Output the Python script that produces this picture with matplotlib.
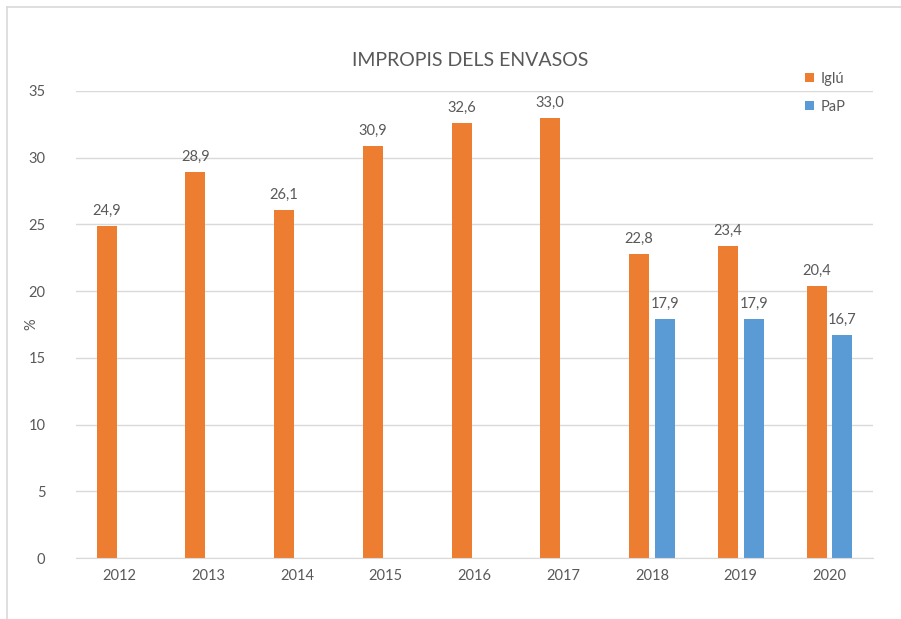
import matplotlib
matplotlib.use("Agg")
import matplotlib.pyplot as plt
import numpy as np

years = ["2012", "2013", "2014", "2015", "2016", "2017", "2018", "2019", "2020"]
iglu = [24.9, 28.9, 26.1, 30.9, 32.6, 33.0, 22.8, 23.4, 20.4]
pap = [None, None, None, None, None, None, 17.9, 17.9, 16.7]
yticks = [0, 5, 10, 15, 20, 25, 30, 35]

plt.rcParams['font.family'] = ['Lato', 'DejaVu Sans']
txt = '#595959'
orange = '#ED7D31'
blue = '#5B9BD5'

fig = plt.figure(figsize=(9.01, 6.19), dpi=100)
ax = fig.add_axes([76/901, (619-558)/619, (873-76)/901, (558-91)/619])

x = np.arange(len(years))
w = 0.225
off = 0.146
bi = ax.bar(x - off, iglu, width=w, color=orange, zorder=3, label='Iglú')
px = [i for i, v in enumerate(pap) if v is not None]
pv = [v for v in pap if v is not None]
bp = ax.bar(np.array(px) + off, pv, width=w, color=blue, zorder=3, label='PaP')

for xi, v in zip(x, iglu):
    ax.text(xi - off, v + 0.6, f"{v:.1f}".replace('.', ','), ha='center', va='bottom',
            fontsize=10.5, color=txt)
for xi, v in zip(px, pv):
    ax.text(xi + off, v + 0.6, f"{v:.1f}".replace('.', ','), ha='center', va='bottom',
            fontsize=10.5, color=txt)

ax.set_xlim(-0.49, 8.49)
ax.set_ylim(0, 35)
ax.set_yticks(yticks)
ax.set_xticks(x)
ax.set_xticklabels(years)
ax.tick_params(axis='both', length=0, labelsize=10.5, colors=txt)
ax.tick_params(axis='y', pad=22)
ax.tick_params(axis='x', pad=8)
ax.grid(axis='y', color='#D9D9D9', linewidth=1, zorder=0)
for s in ['top', 'right', 'left']:
    ax.spines[s].set_visible(False)
ax.spines['bottom'].set_color('#D9D9D9')
ax.spines['bottom'].set_zorder(4)
ax.set_ylabel('%', color=txt, fontsize=10.5, labelpad=2)
ax.yaxis.set_label_coords(-0.047, 0.5)

fig.text(470/901, 1 - 60/619, 'IMPROPIS DELS ENVASOS', ha='center', va='center',
         fontsize=14, color=txt)

leg = fig.legend(handles=[bi, bp], labels=['Iglú', 'PaP'], loc='upper left',
                 bbox_to_anchor=(802/901, 1 - 69/619), frameon=False, fontsize=10.5,
                 labelcolor=txt, handlelength=0.6, handleheight=0.6, handletextpad=0.5,
                 labelspacing=0.95, borderaxespad=0, borderpad=0.2)

# frame
fig.add_artist(plt.Line2D([7/901, 7/901], [0, 1 - 7/619], transform=fig.transFigure,
                          color='#D9D9D9', linewidth=1.2))
fig.add_artist(plt.Line2D([7/901, 1], [1 - 7/619, 1 - 7/619], transform=fig.transFigure,
                          color='#D9D9D9', linewidth=1.2))

fig.savefig('out.png', dpi=100)
